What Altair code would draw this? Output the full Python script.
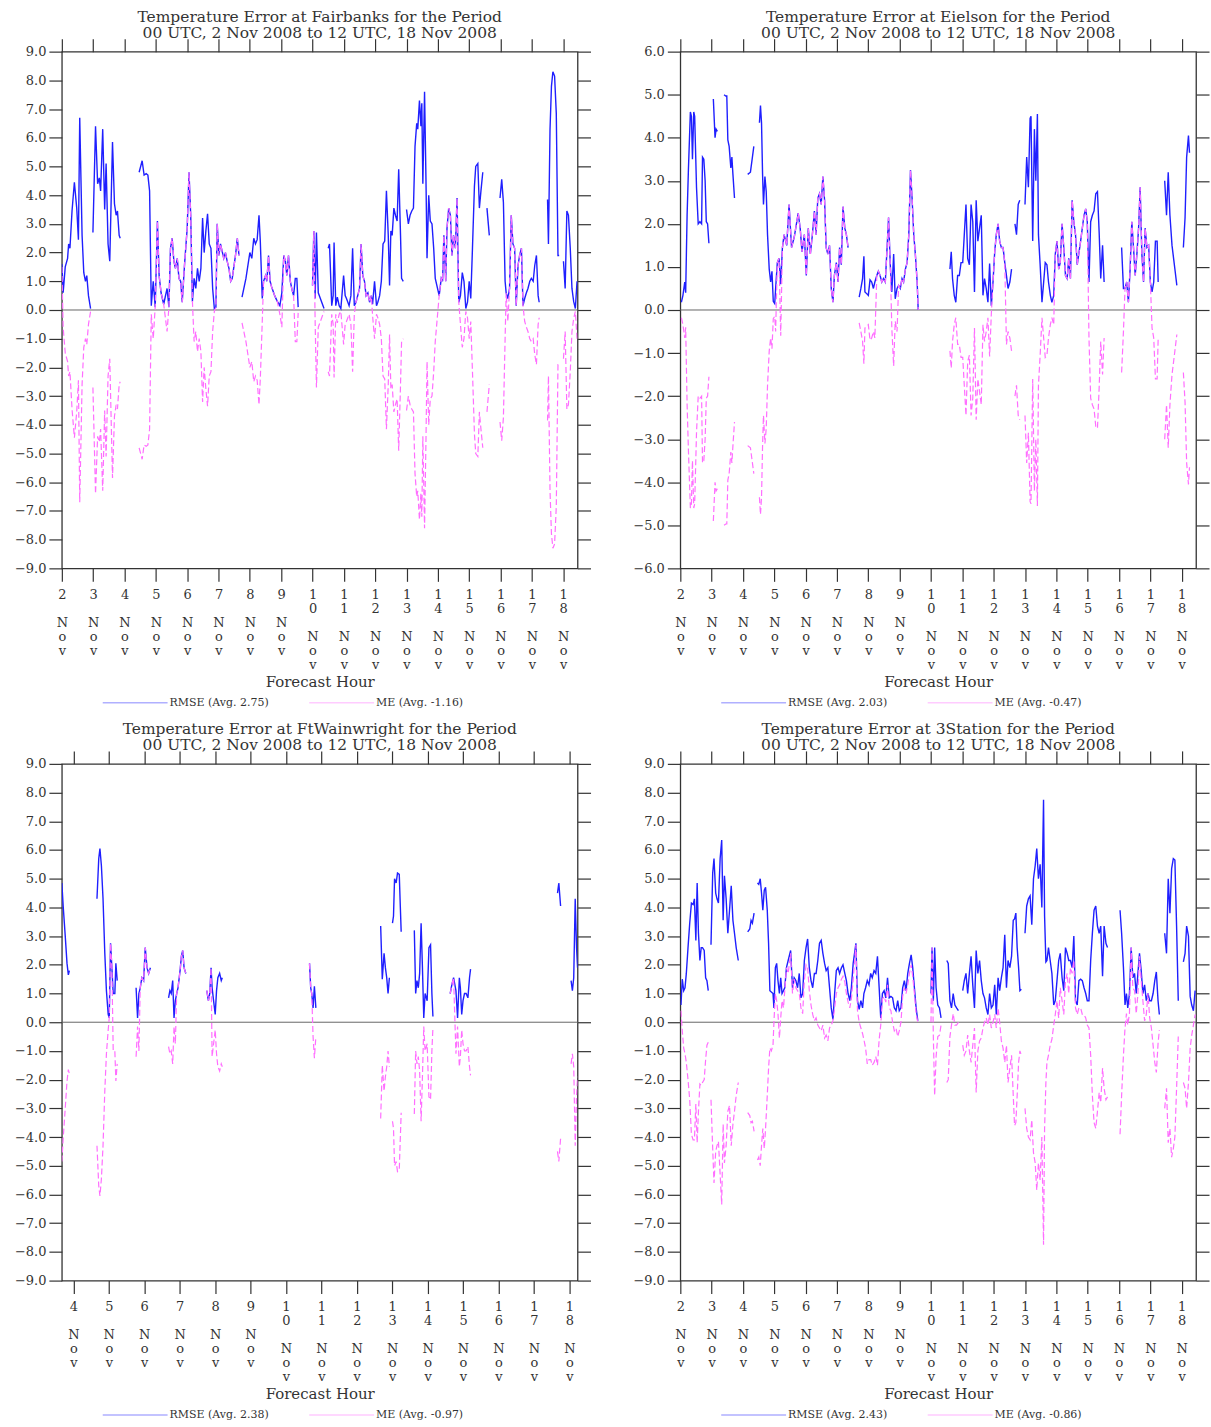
import altair as alt
import pandas as pd

FONT = "DejaVu Serif"
TXT = "#333333"
BLUE = "#1f1fff"
PINK = "#ff6eff"

DAYS = list(range(2, 19))
MONTH = "Nov"
SUBTITLE = "00 UTC, 2 Nov 2008 to 12 UTC, 18 Nov 2008"

STATIONS = ["Fairbanks", "Eielson", "FtWainwright", "3Station"]
RMSE_AVG = ["2.75", "2.03", "2.38", "2.43"]
ME_AVG = ["-1.16", "-0.47", "-0.97", "-0.86"]
Y_LIMIT = [9, 6, 9, 9]
X_RANGE = [[0, 395], [0, 395], [40.2, 389.6], [0, 395]]

# ---------------- Fairbanks ----------------
FAI_HOUR = [
    0, 1, 2.6, 4.4, 5.2, 6.2, 7.8, 9.6, 11.4, 12.7, 13.7, 15.5, 16.8, 18.1, 19.1, 20.4, 22, 23,
    23.8, 25.8, 27.4, 28.7, 29.7, 31.3, 32.8, 33.9, 35.4, 36.7, 38.8, 40.3, 41.6, 42.6, 43.9, 44.7, 50,
    59.2, 61.5, 63, 64.6, 65.9, 67.2, 68.5, 70, 71.5, 73.2, 74.5, 76, 78, 80.6, 82, 83.2, 84.5, 85.8, 87, 88.4,
    89.7, 91, 92.2, 94, 96, 97.4, 98.7, 100, 101.3, 102.6, 103.9, 105.2, 106.5, 107.8, 109, 110.3, 111.6, 112.9,
    114.2, 115.5, 116.8, 118, 119, 120.3, 121.5, 124, 125.3, 126.6, 128, 129.3, 130.5, 133, 134.4, 135.7, 137,
    138, 141, 144, 145.5, 147, 148.3, 149.6, 151, 152, 153.5, 154.5, 156, 157, 158.3, 159.5, 160.7, 163, 165,
    167, 168.5, 170, 171.2, 172.3, 173.6, 175, 176.3, 177.5, 178.8, 180, 181, 186,
    192, 193, 194, 195, 196.4, 198, 200.8, 202,
    204, 205, 206.7, 207.8, 208.5, 209.8, 211, 212.4, 213.7, 215.8, 217, 218, 220, 221.4, 222.7, 224, 225.3,
    228, 229.2, 230.5, 231.8, 233, 234.4, 235.7, 237, 238, 239.5, 241, 242, 243.4, 244.7, 246, 247.3, 248.6,
    250, 251, 252, 253, 254.3, 255.5, 256.8, 258, 259.4, 260.2, 261.5, 263,
    264, 265.4, 266.7, 268, 269.3, 270.5, 271.8, 272.6, 273.9, 275, 275.7, 276.5, 277.8, 278.9, 279.7, 281,
    282.2, 283.5, 284.8, 286, 289, 290.6, 291.6, 292.6, 294, 295, 296.3, 297.6, 298.8, 300, 301.4, 302.7, 304,
    305.3, 306.7, 308, 309.4, 310.7, 312, 313.2, 314.5, 316, 317, 318.6, 319.8, 321, 322.4, 324, 325.6, 327.4, 330,
    335.6, 336.9, 338.2, 339.5, 340.3, 341.6, 342.9, 344.2, 345.5, 346.8, 348, 349.4, 350.6, 352, 353.2, 354.5,
    355.8, 357, 358.4, 359.6, 361, 362.2, 363.5, 364.8, 365.6, 369,
    372, 372.7, 373.9, 375, 376.1, 377.4, 378.7, 380, 380.9, 382, 384.2, 385.5, 386.8, 388, 389.4, 390.7, 392,
    393.3, 394.6,
]
FAI_RMSE = [
    1.6, 0.6, 1.5, 1.8, 2.3, 2.15, 3.45, 4.45, 3.55, 2.45, 6.7, 2.6, 1.3, 1.0, 1.2, 0.5, 0.05, None,
    2.7, 6.4, 4.4, 4.6, 4.15, 6.3, 3.5, 5.1, 2.3, 1.7, 5.85, 3.7, 3.3, 3.45, 2.6, 2.5, None,
    4.8, 5.2, 4.7, 4.75, 4.7, 4.15, 0.15, 1.0, 0.1, 3.1, 1.2, 0.6, 0.2, 0.75, 0.1, 2.15, 2.5, 1.7, 1.45, 1.8,
    1.1, 1.0, 0.27, 1.6, 2.85, 4.8, 3.3, 0.3, 1.1, 0.75, 1.45, 1.0, 1.45, 3.2, 2.0, 2.75, 3.35, 2.3,
    2.15, 0.75, 0.05, 0.1, 3.0, 1.9, 2.3, 1.8, 2.0, 1.7, 1.45, 1.0, 1.1, 1.9, 2.5, 1.9, None,
    0.45, 1.1, 2.0, 1.8, 2.5, 2.3, 2.45, 3.3, 2.4, 0.4, 1.0, 1.2, 1.0, 1.9, 1.0, 0.8, 0.5, 0.3,
    0.15, 0.6, 1.9, 1.7, 1.2, 1.9, 1.0, 0.7, 0.5, 1.1, 1.1, 0.1, None,
    0.85, 2.75, 0.4, 2.7, 0.6, 0.4, 0.05, None,
    2.15, 2.3, 0.15, 0.5, 2.35, 0.15, 0.45, 0.15, 0.05, 1.2, 0.5, 0.4, 0.15, 0.5, 2.15, 0.15, 0.27,
    0.75, 2.3, 1.2, 1.0, 0.5, 0.6, 0.27, 0.5, 0.2, 1.0, 0.15, 0.27, 0.5, 1.0, 2.3, 2.4, 4.15,
    2.6, 0.85, 2.75, 2.6, 3.55, 3.3, 3.1, 4.9, 2.6, 1.1, 1.0, None,
    3.5, 3.0, 3.3, 3.45, 3.55, 5.7, 6.5, 6.3, 7.3, 6.4, 7.2, 4.4, 7.6, 4.5, 1.8, 4.0,
    3.1, 3.0, 2.15, 1.1, 0.5, 1.1, 1.0, 2.6, 1.0, 2.85, 3.55, 3.3, 1.9, 2.6, 2.15, 3.9, 0.27,
    0.5, 1.3, 1.0, 0.05, 0.27, 1.0, 0.4, 2.15, 4.3, 5.0, 5.1, 3.55, 4.15, 4.8, None, 3.55, 2.6, None,
    3.9, 4.55, 3.75, 1.0, 0.6, 0.4, 0.75, 3.3, 2.3, 2.15, 0.15, 1.55, 1.9, 2.15, 0.15, 0.4,
    0.6, 0.75, 1.0, 1.1, 1.0, 1.55, 1.9, 0.5, 0.27, None,
    3.85, 2.3, 6.3, 7.8, 8.3, 8.15, 6.85, 1.9, 1.9, None, 1.7, 0.75, 3.45, 3.3, 2.15, 0.75, 0.3,
    0.05, 1.0,
]
FAI_ME = [
    1.5, -0.6, -1.5, -1.8, -2.3, -2.15, -3.45, -4.45, -3.55, -2.45, -6.7, -2.6, -1.3, -1.0, -1.2, -0.5, -0.05, None,
    -2.7, -6.4, -4.4, -4.6, -4.15, -6.3, -3.5, -5.1, -2.3, -1.7, -5.85, -3.7, -3.3, -3.45, -2.6, -2.5, None,
    -4.8, -5.2, -4.7, -4.75, -4.7, -4.15, -0.15, -1.0, 0.1, 3.1, 1.2, 0.6, 0.2, -0.75, 0.1, 2.15, 2.5, 1.7, 1.45, 1.8,
    1.1, 1.0, 0.27, 1.6, 2.85, 4.8, 3.3, 0.3, -1.1, -0.75, -1.45, -1.0, -1.45, -3.2, -2.0, -2.75, -3.35, -2.3,
    -2.15, -0.75, -0.05, 0.1, 3.0, 1.9, 2.3, 1.8, 2.0, 1.7, 1.45, 1.0, 1.1, 1.9, 2.5, 1.9, None,
    -0.45, -1.1, -2.0, -1.8, -2.5, -2.3, -2.45, -3.3, -2.4, -0.4, 1.0, 1.2, 1.0, 1.9, 1.0, 0.8, 0.5, 0.3,
    -0.15, -0.6, 1.9, 1.7, 1.2, 1.9, 1.0, 0.7, 0.5, -1.1, -1.1, -0.1, None,
    0.85, 2.75, -0.4, -2.7, -0.6, -0.4, -0.05, None,
    -2.15, -2.3, -0.15, -0.5, -2.35, -0.15, -0.45, -0.15, -0.05, -1.2, -0.5, -0.4, -0.15, -0.5, -2.15, -0.15, 0.27,
    0.75, 2.3, 1.2, 1.0, 0.5, 0.6, 0.27, 0.5, -0.2, -1.0, -0.15, -0.27, -0.5, -1.0, -2.3, -2.4, -4.15,
    -2.6, -0.85, -2.75, -2.6, -3.55, -3.3, -3.1, -4.9, -2.6, -1.1, -1.0, None,
    -3.5, -3.0, -3.3, -3.45, -3.55, -5.7, -6.5, -6.3, -7.3, -6.4, -7.2, -4.4, -7.6, -4.5, -1.8, -4.0,
    -3.1, -3.0, -2.15, -1.1, 0.5, 1.1, 1.0, 2.6, 1.0, 2.85, 3.55, 3.3, 1.9, 2.6, 2.15, 3.9, 0.27,
    -0.5, -1.3, -1.0, -0.05, -0.27, -1.0, -0.4, -2.15, -4.3, -5.0, -5.1, -3.55, -4.15, -4.8, None, -3.55, -2.6, None,
    -3.9, -4.55, -3.75, -1.0, 0.6, -0.4, 0.75, 3.3, 2.3, 2.15, 0.15, 1.55, 1.9, 2.15, 0.15, -0.4,
    -0.6, -0.75, -1.0, -1.1, -1.0, -1.55, -1.9, -0.5, -0.27, None,
    -3.85, -2.3, -6.3, -7.8, -8.3, -8.15, -6.85, -1.9, -1.9, None, -1.7, -0.75, -3.45, -3.3, -2.15, -0.75, -0.3,
    -0.05, -1.0,
]

# ---------------- Eielson ----------------
EIL_HOUR = [
    0.8, 2, 3.4, 4.1, 5.2, 6.2, 7.7, 8.5, 9.3, 10.3, 11, 12.4, 13.7, 15, 16.3, 17, 18, 19, 19.9, 20.9, 21.9, 23.5,
    25.3, 26.6, 27.4, 28.4, 30,
    33.5, 34.8, 35.6, 36.4, 37.4, 38.7, 39.5, 40.3, 41.5, 45,
    51.6, 53.7, 55, 56.3, 58,
    60.6, 61.4, 62.2, 63, 63.7, 64.8, 65.8, 66.8, 68.1, 69.2, 70.2, 71.2, 72.3, 73, 74.3, 75.6, 76.9, 78.2, 79.5,
    81.5, 83.3, 85.2, 87.3, 90.3, 91.8, 93.2, 95, 96.5, 98, 99.6, 101, 102.7, 104, 105.3, 106.6, 107.9, 109.2,
    110.5, 111.7, 113, 114.3, 115.6, 116.9, 118, 119.5, 120.8, 122, 123.3, 124.6, 126, 127.2, 128.5, 131,
    137, 138.3, 139.6, 140.6, 141.4, 142.7, 144, 145.3, 146.6, 147.9, 149, 150.5, 151.7, 153, 154.3, 155.6, 157,
    158.2, 159.5, 160.8, 162, 163.4, 164.6, 166, 167.2, 168.5, 169.8, 171, 172.4, 173.7, 175, 176.3, 177.5,
    178.8, 180, 181.4, 182.2, 190,
    206.5, 207.5, 208.5, 209.8, 211, 212.4, 213.7, 215, 216.3, 217.5, 218.8, 220.1, 221.4, 222.7, 224, 225.3,
    226.6, 227.9, 229.2, 230.5, 231.8, 233, 234.3, 235.6, 236.9, 238.2, 239.5, 240.8, 242, 243.4, 244.6, 245.9,
    247.2, 248.5, 249.8, 251, 252.4, 253.7, 255,
    256.3, 257.5, 258.8, 260, 262, 264, 265.3, 266.6, 267.9, 268.6, 269.9, 271.2, 272.3, 273.5, 274.3, 275.6,
    277, 278.3, 279.5, 280.8, 282, 283.4, 284.6, 286, 287.2, 288.5, 289.8, 291, 292.4, 293.7, 295, 296.3, 297.5,
    298.8, 300.1, 301.4, 302.7, 304, 306.6, 307.9, 309.2, 310.5, 311.7, 313, 314.3, 315.6, 316.9, 318.2, 319.5,
    320.8, 322, 323.4, 324.6, 330,
    338, 339.4, 340.6, 341.9, 343.2, 344.5, 345.8, 347.1, 348.4, 349.7, 351, 352.2, 353.5, 354.8, 356, 357.4,
    358.7, 360, 361.3, 362.6, 363.9, 365.2, 366, 368,
    371, 372.4, 373.7, 375, 376.6, 377.8, 379, 380.3, 383, 385.3, 386.6, 387.8, 389.2, 390,
]
EIL_RMSE = [
    0.18, 0.34, 0.65, 0.4, 2.2, 3.25, 4.6, 4.5, 3.5, 4.6, 4.5, 2.85, 2.0, 2.05, 2.0, 3.55, 3.5, 3.0, 2.05, 2.0, 1.55, None,
    4.9, 4.0, 4.2, 4.15, None,
    5.0, 4.97, 4.97, 3.95, 3.8, 3.3, 3.55, 3.15, 2.6, None,
    3.15, 3.2, 3.5, 3.8, None,
    4.35, 4.75, 4.35, 3.15, 2.45, 3.1, 2.75, 1.75, 0.95, 0.65, 0.9, 0.2, 0.15, 0.5, 1.1, 1.2, 0.6, 1.45, 1.75,
    1.5, 2.45, 1.45, 1.7, 2.25, 1.9, 1.35, 1.75, 0.8, 1.9, 1.3, 1.7, 2.3, 1.75, 2.6, 2.7, 2.45, 3.1,
    2.55, 1.45, 1.3, 1.5, 0.5, 0.18, 0.8, 1.1, 0.65, 1.45, 1.05, 2.4, 1.9, 1.75, 1.45, None,
    0.3, 0.5, 0.73, 1.25, 0.42, 0.38, 0.34, 0.7, 0.65, 0.5, 0.65, 0.8, 0.9, 0.8, 0.65, 0.73, 0.65,
    1.35, 2.15, 1.05, 0.42, 1.3, 0.26, 0.5, 0.57, 0.5, 0.73, 0.65, 0.95, 1.1, 1.75, 3.25, 2.6,
    1.75, 1.3, 0.65, 0.0, None,
    0.95, 1.35, 0.73, 0.34, 0.18, 0.8, 0.8, 1.1, 1.1, 1.75, 2.45, 1.2, 1.05, 2.45, 2.05, 0.42,
    2.55, 1.6, 1.9, 2.2, 0.34, 0.73, 0.5, 0.18, 1.08, 0.1, 0.65, 1.35, 1.75, 2.0, 1.6, 1.45,
    1.45, 1.1, 0.8, 0.5, 0.65, 0.95, None,
    2.0, 1.75, 2.45, 2.55, None, 2.45, 3.55, 2.85, 4.45, 4.5, 1.6, 4.2, 3.0, 4.55, 1.75, 1.05,
    0.18, 0.65, 1.1, 1.05, 0.65, 0.34, 0.18, 0.34, 1.3, 1.6, 0.95, 1.1, 2.0, 1.45, 0.8, 0.73, 1.2,
    0.73, 2.55, 2.05, 1.75, 1.05, 1.6, 1.9, 2.2, 2.35, 2.05, 0.65, 2.05, 2.2, 2.3, 2.7, 2.75,
    1.8, 0.73, 1.5, 0.65, None,
    1.45, 0.5, 0.5, 0.65, 0.18, 0.95, 2.05, 1.45, 0.8, 1.3, 1.9, 2.85, 1.3, 0.65, 1.9, 1.45,
    1.5, 0.65, 0.42, 0.65, 1.6, 1.6, 0.65, None,
    3.0, 2.2, 3.2, 2.2, 1.5, 1.2, 0.9, 0.57, None, 1.45, 2.15, 3.55, 4.05, 3.65,
]
EIL_ME = [
    -0.18, -0.34, -0.65, -0.4, -2.2, -3.25, -4.6, -4.5, -3.5, -4.6, -4.5, -2.85, -2.0, -2.05, -2.0, -3.55, -3.5, -3.0, -2.05, -2.0, -1.55, None,
    -4.9, -4.0, -4.2, -4.15, None,
    -5.0, -4.97, -4.97, -3.95, -3.8, -3.3, -3.55, -3.15, -2.6, None,
    -3.15, -3.2, -3.5, -3.8, None,
    -4.35, -4.75, -4.35, -3.15, -2.45, -3.1, -2.75, -1.75, -0.95, -0.65, -0.9, -0.2, -0.15, -0.5, 1.1, 1.2, -0.6, 1.45, 1.75,
    1.5, 2.45, 1.45, 1.7, 2.25, 1.9, 1.35, 1.75, 0.8, 1.9, 1.3, 1.7, 2.3, 1.75, 2.6, 2.7, 2.45, 3.1,
    2.55, 1.45, 1.3, 1.5, 0.5, 0.18, 0.8, 1.1, 0.65, 1.45, 1.05, 2.4, 1.9, 1.75, 1.45, None,
    -0.3, -0.5, -0.73, -1.25, -0.42, -0.38, -0.34, -0.7, -0.65, -0.5, -0.65, 0.8, 0.9, 0.8, 0.65, 0.73, 0.65,
    1.35, 2.15, 1.05, -0.42, -1.3, -0.26, -0.5, 0.57, 0.5, 0.73, 0.65, 0.95, 1.1, 1.75, 3.25, 2.6,
    1.75, 1.3, 0.65, 0.0, None,
    -0.95, -1.35, -0.73, -0.34, -0.18, -0.8, -0.8, -1.1, -1.1, -1.75, -2.45, -1.2, -1.05, -2.45, -2.05, -0.42,
    -2.55, -1.6, -1.9, -2.2, -0.34, -0.73, -0.5, -0.18, -1.08, -0.1, 0.65, 1.35, 1.75, 2.0, 1.6, 1.45,
    1.45, 1.1, -0.8, -0.5, -0.65, -0.95, None,
    -2.0, -1.75, -2.45, -2.55, None, -2.45, -3.55, -2.85, -4.45, -4.5, -1.6, -4.2, -3.0, -4.55, -1.75, -1.05,
    -0.18, -0.65, -1.1, -1.05, -0.65, -0.34, -0.18, -0.34, 1.3, 1.6, 0.95, 1.1, 2.0, 1.45, 0.8, 0.73, 1.2,
    0.73, 2.55, 2.05, 1.75, 1.05, 1.6, 1.9, 2.2, 2.35, 2.05, -0.65, -2.05, -2.2, -2.3, -2.7, -2.75,
    -1.8, -0.73, -1.5, -0.65, None,
    -1.45, -0.5, 0.5, 0.65, 0.18, 0.95, 2.05, 1.45, 0.8, 1.3, 1.9, 2.85, 1.3, 0.65, 1.9, 1.45,
    1.5, 0.65, -0.42, -0.65, -1.6, -1.6, -0.65, None,
    -3.0, -2.2, -3.2, -2.2, -1.5, -1.2, -0.9, -0.57, None, -1.45, -2.15, -3.55, -4.05, -3.65,
]

# ---------------- FtWainwright ----------------
FTW_HOUR = [
    40.2, 41.1, 42.5, 43.7, 44.6, 45.3, 50,
    64, 65.2, 66, 67, 68.1, 69.3, 70.4, 71.6, 72.3, 73.2, 74.1, 75, 76.1, 76.8, 77.7, 80,
    90.5, 91.5, 92.4, 93.3, 94.4, 95.6, 96.7, 97.9, 99, 100.2, 105,
    112.5, 113.4, 114.3, 115.3, 116.2, 117.1, 118, 118.9, 120.3, 121.2, 122.1, 123, 124.2, 130,
    138.4, 139.5, 140.4, 141.3, 142, 143, 144.1, 145, 145.9, 147.1, 148.2, 148.9, 160,
    208, 208.8, 209.5, 210.4, 211.3, 212.3, 230,
    256.2, 257.3, 258.5, 259.4, 260.3, 261.2, 262.1, 263, 264.2, 264.9, 265.6, 266.7, 267.6, 268.8, 269.5, 270.1, 275,
    279, 279.9, 280.8, 281.7, 282.6, 283.6, 284.5, 285.4, 286.3, 287.7, 288.9, 290, 290.9, 291.6, 297,
    303.3, 304.4, 305.6, 307.2, 308.3, 309.5, 310.2, 311.1, 312, 313, 314.1, 315.3, 316.4, 317.1, 330,
    376, 376.9, 378.1, 382, 385.2, 386.1, 387, 388, 388.9, 389.6,
]
FTW_RMSE = [
    4.85, 4.05, 3.0, 2.05, 1.65, 1.8, None,
    4.3, 5.7, 6.05, 5.45, 4.3, 2.4, 1.1, 0.27, 0.15, 2.75, 1.9, 1.0, 1.0, 2.05, 1.45, None,
    1.2, 0.15, 1.0, 1.2, 1.55, 1.45, 2.6, 1.9, 1.7, 1.9, None,
    0.85, 1.1, 1.0, 1.45, 0.15, 0.75, 1.0, 1.2, 1.8, 2.3, 2.5, 1.9, 1.7, None,
    1.1, 0.75, 1.0, 1.9, 1.2, 0.75, 0.27, 1.1, 1.55, 1.7, 1.45, 1.55, None,
    2.05, 1.2, 1.0, 0.5, 1.25, 0.5, None,
    3.35, 1.5, 2.4, 1.9, 1.55, 1.0, 1.55, None, 3.45, 3.7, 5.0, 4.85, 5.2, 5.15, 4.05, 3.15, None,
    3.2, 1.0, 1.45, 1.2, 1.7, 3.45, 1.9, 0.15, 1.0, 0.75, 2.6, 2.7, 1.0, 0.2, None,
    1.0, 1.3, 1.55, 1.1, 0.15, 1.55, 1.2, 0.27, 0.75, 1.0, 1.0, 0.85, 1.55, 1.85, None,
    4.5, 4.85, 4.05, None, 1.45, 1.1, 1.55, 4.3, 2.6, 1.9,
]
FTW_ME = [
    -4.85, -4.05, -3.0, -2.05, -1.65, -1.8, None,
    -4.3, -5.7, -6.05, -5.45, -4.3, -2.4, -1.1, -0.27, 0.15, 2.75, 1.9, -1.0, -1.0, -2.05, -1.45, None,
    -1.2, -0.15, -1.0, 1.2, 1.55, 1.45, 2.6, 1.9, 1.7, 1.9, None,
    -0.85, -1.1, -1.0, -1.45, -0.15, -0.75, 1.0, 1.2, 1.8, 2.3, 2.5, 1.9, 1.7, None,
    1.1, 0.75, 1.0, 1.9, -1.2, -0.75, -0.27, -1.1, -1.55, -1.7, -1.45, -1.55, None,
    2.05, 1.2, 1.0, -0.5, -1.25, -0.5, None,
    -3.35, -1.5, -2.4, -1.9, -1.55, -1.0, -1.55, None, -3.45, -3.7, -5.0, -4.85, -5.2, -5.15, -4.05, -3.15, None,
    -3.2, -1.0, -1.45, -1.2, -1.7, -3.45, -1.9, -0.15, -1.0, -0.75, -2.6, -2.7, -1.0, -0.2, None,
    1.0, 1.3, 1.55, -1.1, -0.15, -1.55, -1.2, -0.27, -0.75, -1.0, -1.0, -0.85, -1.55, -1.85, None,
    -4.5, -4.85, -4.05, None, -1.45, -1.1, -1.55, -4.3, -2.6, -1.9,
]

# ---------------- 3Station ----------------
STA_HOUR = [
    0.5, 1.5, 2.6, 3.6, 4.6, 5.9, 7.2, 8.5, 9.8, 10.8, 11.9, 12.9, 13.9, 15, 16, 17, 18.3, 19.4, 20.4, 21.4, 22.5,
    23.5, 24.8, 25.8, 27.1, 28.1, 29.2, 30.5, 31.7, 32.8, 33.8, 35.1, 36.4, 37.7, 39, 40.3, 41.5, 42.8, 44.4, 48,
    51.6, 53.2, 54.2, 55.2, 56.5, 57.8,
    59.1, 60.1, 61.2, 62.2, 63.2, 64.3, 65.3, 66.6, 67.6, 68.6, 69.7, 71, 71.7, 72.8, 73.8, 74.8, 75.9, 76.9,
    77.9, 79, 80, 81.3, 82.6, 84.5, 85.9, 87.2, 88.5, 89.8, 91.1, 92.4, 93.7, 95, 96.3, 97.5, 98.8, 100.1,
    101.4, 102.7, 104, 105.3, 106.6, 107.9, 109.2, 110.5, 111.7, 113, 114.3, 115.6, 116.9, 118.2, 119.5, 120.8,
    122, 123.4, 124.6, 126, 127.2, 128.5, 129.8, 131, 132.4, 134.5, 135.7, 137, 138.3, 139.6, 140.6, 141.9,
    143.2, 144.5, 145.8, 147, 148.4, 149.7, 151, 152.3, 153.5, 154.8, 156.1, 157.4, 158.7, 160, 161.3, 162.6,
    163.9, 165.2, 166.5, 167.7, 169, 170.3, 171.6, 172.9, 174.2, 175.5, 176.8, 178, 179.3, 180.6, 181.9, 186,
    192, 192.8, 193.8, 194.8, 195.9, 197.2, 198.5, 199.7, 202,
    204.1, 205.2, 206.5, 207.7, 209, 210.3, 211.6, 213, 214.5,
    216.3, 217.5, 218.8, 220.1, 221.4, 222.7, 224, 225.3, 226.6, 227.9, 229.2, 230.5, 231.8, 233, 234.3, 235.6,
    236.9, 238.2, 239.5, 240.8, 242, 243.4, 244.6, 245.9, 247.2, 248.5, 249.8, 251, 252.4, 253.7, 255, 256,
    257, 258, 259.1, 260.1, 261.2, 262.7,
    264, 265.3, 266.6, 267.9, 269.2, 270.5, 271.8, 273, 274.3, 275.6, 276.9, 278.2, 279, 280, 280.8, 282,
    283.3, 284.6, 286, 287.2, 288.5, 289.8, 291, 292.4, 293.7, 295, 296.3, 297.5, 298.8, 300.1, 301.4, 302.7,
    304, 305.3, 306.6, 307.9, 309.2, 310.5, 311.7, 313, 314.3, 315.6, 316.9, 318.2, 319.5, 320.8, 322, 323.4,
    324.6, 326, 327.2, 331,
    336.8, 338, 339.4, 340.6, 341.7, 342.7, 344, 345.3, 346.6, 347.9, 349.2, 350.5, 351.7, 353, 354.3, 355.6,
    356.9, 358.2, 359.5, 360.8, 362.1, 363.4, 364.6, 365.9, 366.9, 369,
    371, 372.4, 373.7, 375, 376.3, 377.6, 378.8, 380.1, 381.4, 383.5, 385.3, 386.6, 387.8, 389.2, 390.5, 391.7,
    393, 394.3,
]
STA_RMSE = [
    0.6, 1.5, 1.1, 1.2, 1.7, 2.6, 3.45, 4.15, 4.1, 4.3, 2.85, 4.85, 3.1, 2.15, 2.6, 2.6, 2.5, 1.55, 1.45, 1.1, None,
    2.7, 5.2, 5.7, 4.5, 4.3, 4.15, 5.7, 6.35, 3.55, 5.1, 4.3, 3.1, 3.9, 4.75, 3.55, 3.1, 2.6, 2.15, None,
    3.15, 3.25, 3.55, 3.45, 3.8, None,
    4.85, 4.8, 5.0, 4.5, 3.9, 4.6, 4.7, 3.9, 2.75, 1.1, 1.05, 1.0, 0.5, 1.9, 2.05, 1.45, 1.0, 1.55,
    1.0, 1.1, 1.2, 1.9, 2.15, 2.5, 1.2, 1.55, 1.45, 1.2, 1.7, 0.85, 1.0, 2.15, 2.6, 2.9, 1.9, 1.45,
    1.2, 1.7, 1.7, 2.15, 2.75, 2.85, 2.4, 2.05, 1.8, 1.9, 1.2, 0.5, 0.1, 1.0, 1.8, 1.9,
    1.7, 1.9, 2.0, 1.7, 1.45, 1.0, 0.75, 1.2, 2.05, 2.75, 0.75, 0.45, 0.75, 0.5, 1.0, 1.2,
    1.45, 1.3, 1.7, 1.55, 1.8, 1.7, 2.3, 1.2, 0.15, 1.0, 1.1, 0.85, 1.55, 0.85, 0.9, 0.85,
    0.5, 0.4, 0.75, 0.4, 0.5, 1.2, 1.45, 1.1, 1.7, 2.05, 2.35, 1.9, 1.2, 0.5, 0.05, None,
    1.0, 2.6, 0.75, 2.6, 1.2, 0.6, 0.5, 0.15, None,
    2.15, 2.05, 0.75, 0.5, 1.0, 0.6, 0.5, 0.4, None,
    1.1, 1.45, 1.7, 1.0, 1.7, 2.3, 1.3, 0.5, 2.5, 1.7, 2.15, 1.45, 1.0, 0.85, 0.5, 0.27,
    1.0, 0.5, 0.6, 1.3, 0.27, 1.55, 1.1, 1.55, 1.9, 3.05, 1.2, 2.15, 1.9, 2.3, 3.55, 3.6,
    3.8, 2.6, 1.9, 1.1, 1.15, None,
    3.1, 4.05, 4.3, 4.4, 3.4, 5.0, 5.45, 6.05, 5.0, 5.5, 4.0, 7.75, 3.7, 2.1, 2.15, 2.6,
    2.15, 1.7, 0.6, 0.75, 1.45, 2.15, 2.4, 1.55, 1.1, 2.6, 2.4, 2.15, 2.15, 1.9, 3.0, 0.75,
    0.6, 1.45, 1.5, 1.45, 1.2, 1.0, 0.75, 0.75, 2.15, 3.1, 3.9, 4.05, 3.35, 3.1, 3.35, 1.6,
    3.35, 2.75, 2.6, None,
    3.9, 3.1, 1.9, 0.6, 1.0, 0.5, 1.0, 2.6, 1.55, 1.7, 1.0, 1.7, 2.4, 1.8, 1.0, 1.3,
    0.75, 1.0, 0.75, 0.75, 1.0, 1.45, 1.75, 0.75, 0.27, None,
    3.1, 2.4, 5.0, 3.8, 5.35, 5.7, 5.65, 3.35, 0.75, None, 2.1, 2.4, 3.35, 3.0, 0.9, 0.6,
    0.4, 1.1,
]
STA_ME = [
    0.4, -0.3, -0.9, -1.1, -1.4, -2.0, -2.7, -3.9, -4.1, -4.1, -2.85, -4.2, -3.1, -2.15, -2.2, -2.1, -2.0, -1.3, -0.8, -0.7, None,
    -2.7, -4.4, -5.6, -4.5, -4.3, -4.15, -5.3, -6.35, -3.55, -4.9, -4.3, -3.1, -2.9, -4.3, -3.55, -3.1, -2.55, -2.1, None,
    -3.15, -3.25, -3.5, -3.45, -3.8, None,
    -4.8, -4.7, -5.0, -4.3, -3.7, -4.4, -3.7, -2.55, -1.6, -0.9, -1.0, -0.8, 0.0, 1.0, 0.75, 0.3, -0.55, 0.15,
    0.75, 0.5, 1.1, 1.9, 1.7, 2.4, 1.0, 1.5, 1.2, 1.1, 1.0, 0.5, 0.3, 1.45, 2.0, 1.9, 1.1, 0.6,
    0.27, 0.05, 0.15, -0.1, -0.2, -0.3, -0.1, -0.55, -0.45, -0.65, -0.2, -0.1, 0.05, 0.5, 1.0, 1.2,
    1.3, 1.5, 1.6, 1.4, 1.0, 0.7, 0.5, 0.8, 1.5, 2.7, 0.4, 0.0, -0.2, -0.4, -0.6, -0.9,
    -1.45, -1.3, -1.3, -1.5, -1.4, -1.2, -1.5, -0.6, -0.1, 0.8, 0.9, 0.7, 1.3, 0.5, 0.4, 0.0,
    -0.3, -0.2, -0.5, -0.3, 0.0, 0.9, 1.2, 1.0, 1.3, 1.7, 2.0, 1.6, 1.0, 0.3, 0.0, None,
    0.0, 2.6, -0.5, -2.55, -1.2, -0.5, -0.45, -0.1, None,
    -2.1, -2.0, -0.5, -0.1, 0.3, -0.1, -0.1, 0.0, None,
    -0.8, -1.15, -1.0, -0.45, -1.0, -1.4, -0.8, -0.2, -2.45, -1.0, -0.65, -0.55, -0.2, 0.0, 0.15, -0.1,
    0.27, -0.2, 0.0, 0.27, -0.2, 0.5, 0.0, -0.65, -0.9, -1.4, -0.8, -2.1, -1.6, -1.15, -2.55, -3.6,
    -3.5, -2.55, -1.4, -1.0, -1.15, None,
    -3.0, -3.7, -4.0, -4.1, -3.4, -4.55, -4.9, -5.85, -4.9, -5.5, -4.0, -7.75, -3.7, -2.1, -1.4, -1.15,
    -0.8, -0.6, -0.1, 0.27, 0.75, 0.15, 1.2, 0.75, 0.27, 1.45, 1.7, 1.0, 1.9, 1.7, 2.15, 0.5,
    0.27, 0.5, 0.5, 0.27, 0.27, 0.15, -0.1, -0.2, -1.15, -2.55, -3.5, -3.7, -3.1, -2.45, -2.8, -1.6,
    -2.3, -2.7, -2.6, None,
    -3.9, -2.55, -1.15, -0.2, 0.3, -0.1, 0.3, 2.6, 1.2, 1.1, 0.3, 1.0, 2.3, 1.45, 0.75, 0.05,
    0.27, 1.0, 0.15, -0.2, -0.8, -1.4, -1.75, -0.75, -0.27, None,
    -3.0, -2.3, -4.2, -3.7, -4.7, -4.4, -4.0, -2.3, -0.5, None, -2.1, -2.3, -3.0, -2.1, -0.9, -0.45,
    -0.1, 0.27,
]

SERIES = [
    (FAI_HOUR, FAI_RMSE, FAI_ME),
    (EIL_HOUR, EIL_RMSE, EIL_ME),
    (FTW_HOUR, FTW_RMSE, FTW_ME),
    (STA_HOUR, STA_RMSE, STA_ME),
]

# multi-line day labels: digits stacked, an empty line, then N / o / v
BLANK = "\u2800"
TICK_TEXT = ["|".join(list(str(d)) + [BLANK] + list(MONTH)) for d in DAYS]
LABEL_EXPR = "split([" + ",".join("'" + t + "'" for t in TICK_TEXT) + "][round(datum.value/24)], '|')"

TS = 13


def frame(hours, vals, label):
    rows = []
    seg = 0
    for h, v in zip(hours, vals):
        if v is None:
            seg += 1
            continue
        rows.append({"hour": h, "value": v, "seg": seg, "series": label})
    return pd.DataFrame(rows)


def panel(i):
    hours, rmse, me = SERIES[i]
    rl = f"RMSE (Avg. {RMSE_AVG[i]})"
    ml = f"ME (Avg. {ME_AVG[i]})"
    lim = Y_LIMIT[i]
    x0, x1 = X_RANGE[i]
    xt = [24 * (d - 2) for d in DAYS if x0 <= 24 * (d - 2) <= x1]
    yt = list(range(-lim, lim + 1))
    xs = alt.Scale(domain=[x0, x1], nice=False, zero=False)
    ys = alt.Scale(domain=[-lim, lim], nice=False, zero=False)

    color = alt.Color(
        "series:N",
        scale=alt.Scale(domain=[rl, ml], range=[BLUE, PINK]),
        legend=alt.Legend(
            title=None, orient="none", legendX=40, legendY=619, direction="horizontal",
            symbolType="stroke", symbolSize=4225, symbolStrokeWidth=1.5, symbolOpacity=0.35,
            labelFont=FONT, labelFontSize=11, labelColor=TXT, columnPadding=37,
            labelOffset=1, padding=0,
        ),
    )
    bottom = alt.Axis(
        orient="bottom", values=xt, labelExpr=LABEL_EXPR, tickSize=TS, tickColor=TXT, tickWidth=1.2,
        domain=False, grid=False, labelFont=FONT, labelFontSize=13, labelColor=TXT, labelLineHeight=14,
        labelPadding=7, labelBaseline="top", labelAlign="center", labelOverlap=False, labelFlush=False,
        titleFont=FONT, titleFontSize=15, titleFontWeight="normal", titleColor=TXT, titlePadding=3,
        minExtent=0,
    )
    top = alt.Axis(orient="top", values=xt, labels=False, tickSize=TS, tickColor=TXT, tickWidth=1.2,
                   domain=False, grid=False, title=None, minExtent=0, maxExtent=TS)
    left = alt.Axis(
        orient="left", values=yt, format=".1f", tickSize=TS, tickColor=TXT, tickWidth=1.2,
        domain=False, grid=False, labelFont=FONT, labelFontSize=13, labelColor=TXT, labelPadding=3,
        title=None, minExtent=0,
    )
    right = alt.Axis(orient="right", values=yt, labels=False, tickSize=TS, tickColor=TXT, tickWidth=1.2,
                     domain=False, grid=False, title=None, minExtent=0, maxExtent=TS)

    df_r = frame(hours, rmse, rl)
    df_m = frame(hours, me, ml)

    zero = alt.Chart(pd.DataFrame({"z": [0]})).mark_rule(color="#666666", strokeWidth=1).encode(
        y=alt.Y("z:Q", scale=ys, axis=None)
    )
    r_line = alt.Chart(df_r).mark_line(strokeWidth=1.4, clip=True).encode(
        x=alt.X("hour:Q", scale=xs, axis=bottom, title="Forecast Hour"),
        y=alt.Y("value:Q", scale=ys, axis=left),
        color=color,
        detail="seg:N",
    )
    m_line = alt.Chart(df_m).mark_line(strokeWidth=1.2, strokeDash=[6, 3], clip=True).encode(
        x=alt.X("hour:Q", scale=xs, axis=None),
        y=alt.Y("value:Q", scale=ys, axis=None),
        color=color,
        detail="seg:N",
    )
    guides = alt.Chart(df_r).mark_point(opacity=0).encode(
        x=alt.X("hour:Q", scale=xs, axis=top),
        y=alt.Y("value:Q", scale=ys, axis=right),
    )
    return (
        alt.layer(zero, r_line, m_line, guides)
        .resolve_axis(x="independent", y="independent")
        .properties(
            width=517,
            height=518,
            title=alt.TitleParams(
                text=[f"Temperature Error at {STATIONS[i]} for the Period", SUBTITLE],
                font=FONT, fontSize=15.5, fontWeight="normal", color=TXT, anchor="middle",
                offset=-3, lineHeight=15.5,
            ),
        )
    )


row1 = alt.hconcat(panel(0), panel(1), spacing=39).resolve_scale(color="independent", x="independent", y="independent")
row2 = alt.hconcat(panel(2), panel(3), spacing=39).resolve_scale(color="independent", x="independent", y="independent")

chart = (
    alt.vconcat(row1, row2, spacing=12)
    .resolve_scale(color="independent", x="independent", y="independent")
    .properties(padding={"left": 13, "top": 7, "right": 0, "bottom": 0}, background="white")
    .configure_view(stroke=TXT, strokeWidth=1.3)
)

chart.save("out.html", embed_options={"renderer": "svg", "actions": False})
